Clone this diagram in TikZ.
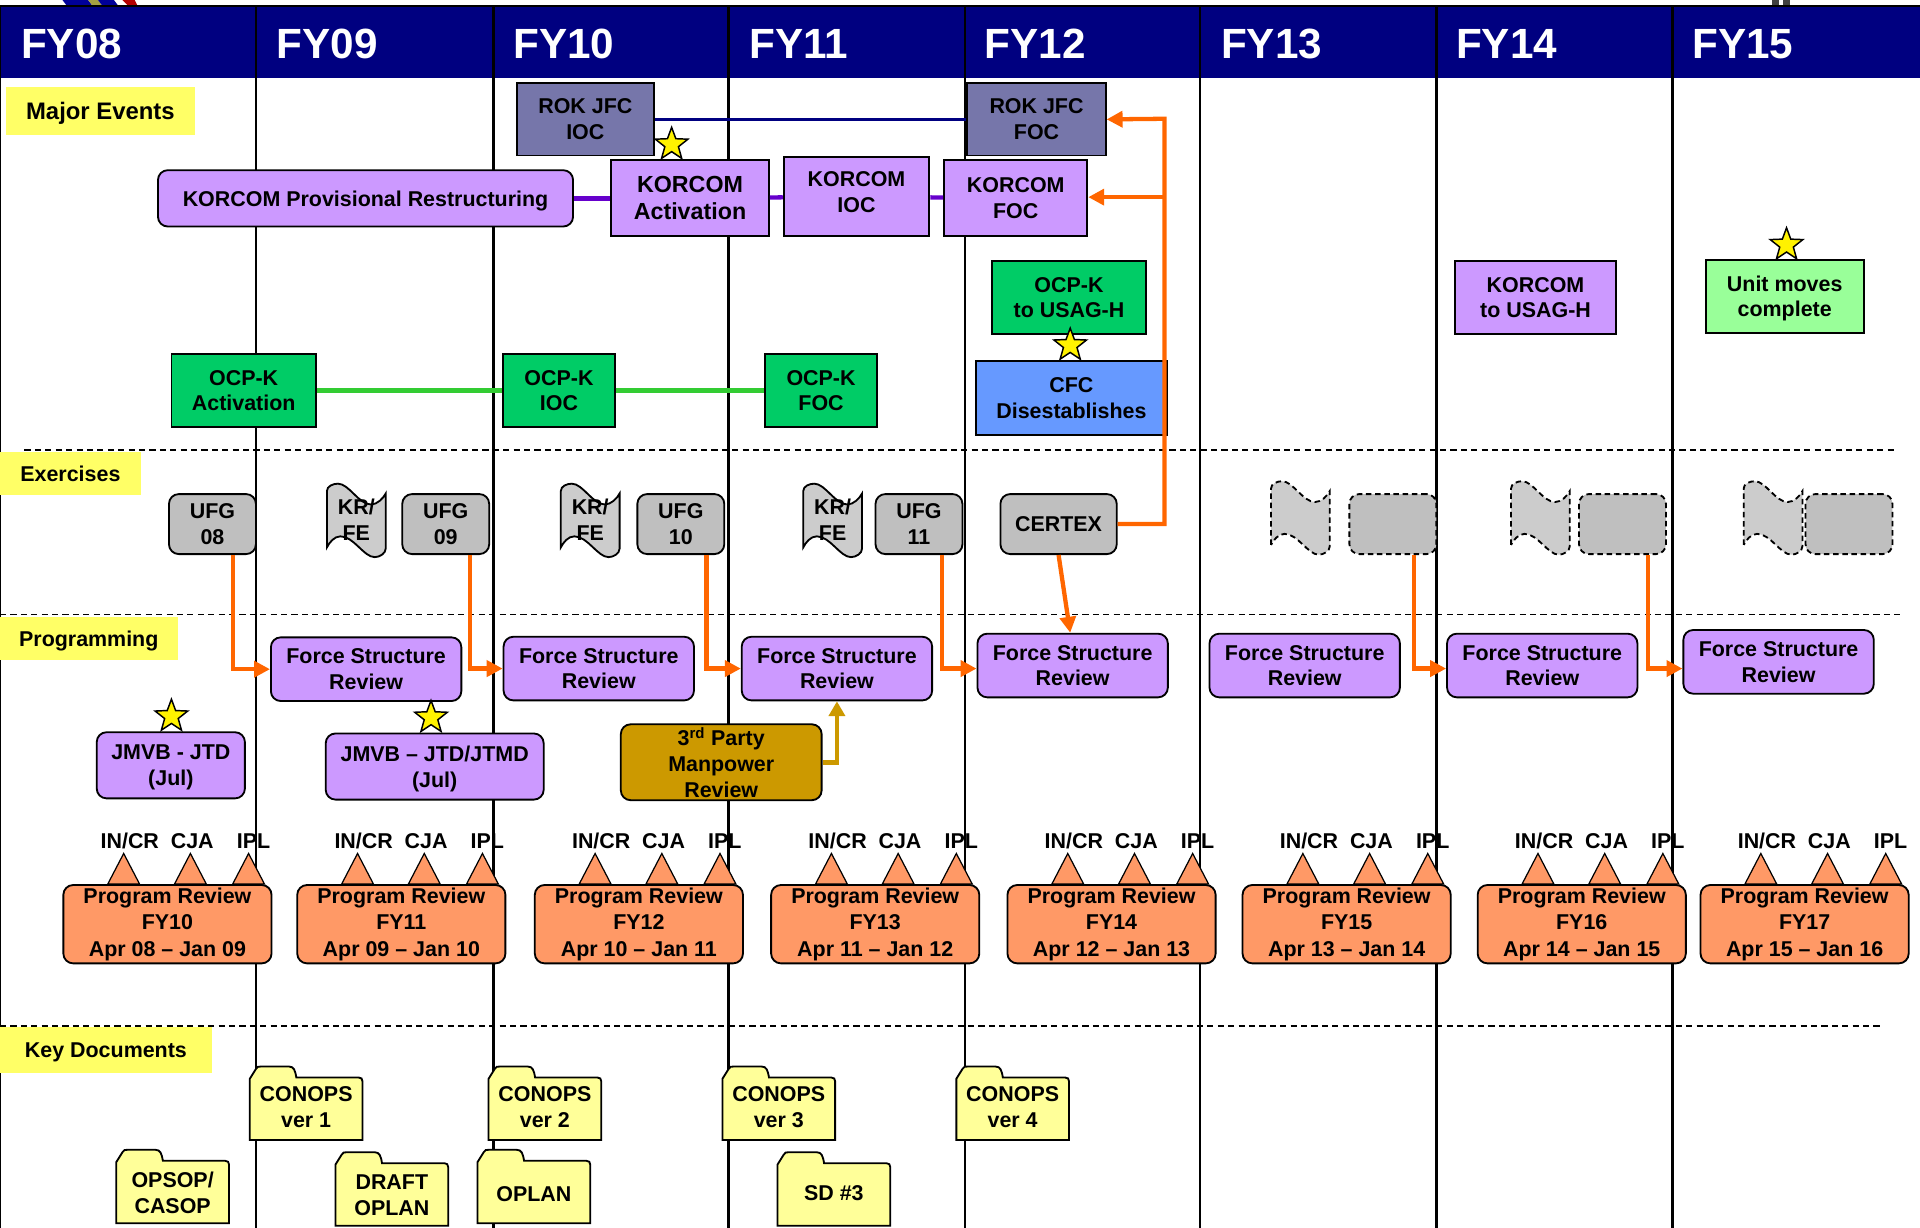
\documentclass[tikz,border=0pt]{standalone}
\usepackage{fontspec}
\setmainfont{Liberation Sans}
\usepackage{xcolor}
\usepackage{tikz}
\usetikzlibrary{arrows.meta,shapes.geometric}

\definecolor{headblue}{HTML}{000080}
\definecolor{rokblue}{HTML}{7676AA}
\definecolor{korpurple}{HTML}{CC99FF}
\definecolor{linepurple}{HTML}{6600CC}
\definecolor{ocpgreen}{HTML}{00CC66}
\definecolor{linegreen}{HTML}{33CC33}
\definecolor{cfcblue}{HTML}{6699FF}
\definecolor{unitgreen}{HTML}{99FF99}
\definecolor{tagyellow}{HTML}{FFFF66}
\definecolor{folderyellow}{HTML}{FFFF99}
\definecolor{arrowhead}{HTML}{FF6600}
\definecolor{mangold}{HTML}{CC9900}
\definecolor{progorange}{HTML}{FF9966}

\tikzset{
	txt/.style={font=\fontsize{17.5}{21}\selectfont\bfseries,align=center,inner sep=0},
	sqbox/.style={txt,draw=black,line width=1.5},
	rbox/.style={sqbox,rounded corners=8},
	tagbox/.style={txt,fill=tagyellow,text depth=0pt},
	ufgbox/.style={rbox,fill=black!25,minimum width=71,minimum height=49},
	ghostbox/.style={ufgbox,dash pattern=on 4.5pt off 3pt},
	fsrbox/.style={rbox,fill=korpurple,minimum width=155.5,minimum height=52},
	progbox/.style={rbox,fill=progorange,minimum width=170,minimum height=64},
	sstar/.style={star,star points=5,star point ratio=2.4,draw=black,line width=1.2,fill=yellow,minimum size=28,inner sep=0},
	orline/.style={draw=arrowhead,line width=3.5,-{Triangle[length=13,width=13]}},
	sepline/.style={dash pattern=on 5pt off 3.5pt,line width=1.3}
}

\begin{document}
\begin{tikzpicture}[x=1pt,y=-1pt]

\useasboundingbox (0,0) rectangle (1568,1002.8);
\clip (0,0) rectangle (1568,1002.8);

\fill[blue!60!black] (51,0)--(72,0)--(75,4)--(54,4)--cycle;
\fill[yellow!60!black] (72,0)--(80,0)--(83,4)--(75,4)--cycle;
\fill[blue!60!black] (80,0)--(93,0)--(96,4)--(83,4)--cycle;
\fill[red!70!black] (100,0)--(110,0)--(112,4)--(104,4)--cycle;
\fill[black!75] (1447,0) rectangle (1453,4);
\fill[black!75] (1456,0) rectangle (1462,4);

\fill[headblue] (0,6) rectangle (1568,64);
\draw[line width=1.5] (0,5)--(1568,5);

\foreach \a in {209,403,595,788,980,1173,1366}{
	\draw[line width=2] (\a,5)--(\a,1003);
}
\draw[line width=1.5] (0,5)--(0,1003);

\foreach \a/\t in {17/FY08,226/FY09,419/FY10,612/FY11,804/FY12,997/FY13,1189/FY14,1382/FY15}{
	\node[font=\fontsize{34.5}{36}\selectfont\bfseries,text=white,anchor=west,inner sep=0] (h\t) at (\a,36) {\t};
}

\draw[sepline] (20,367.5)--(1547,367.5);
\draw[sepline] (0,502)--(1552,502);
\draw[sepline] (0,838)--(1536,838);

\node[tagbox,minimum width=154,minimum height=39,font=\fontsize{19.5}{22}\selectfont\bfseries] (major) at (82,90.5) {Major Events};
\node[tagbox,minimum width=115,minimum height=35] (exer) at (57.5,386.5) {Exercises};
\node[tagbox,minimum width=145,minimum height=35] (prog) at (72.5,521.5) {Programming};
\node[tagbox,minimum width=173,minimum height=37] (keydoc) at (86.5,857.5) {Key Documents};

% major events
\node[sqbox,fill=rokblue,minimum width=112,minimum height=59] (rokioc) at (478,97.5) {ROK JFC\\IOC};
\node[sqbox,fill=rokblue,minimum width=113,minimum height=59] (rokfoc) at (846.5,97.5) {ROK JFC\\FOC};
\node[rbox,fill=korpurple,minimum width=339,minimum height=46,text depth=0pt] (korprov) at (298.5,162) {KORCOM Provisional Restructuring};
\node[sqbox,fill=korpurple,minimum width=129,minimum height=62,font=\fontsize{19}{22}\selectfont\bfseries] (koract) at (563.5,162) {KORCOM\\Activation};
\node[sqbox,fill=korpurple,minimum width=119,minimum height=65,label={[txt,yshift=3.5]center:KORCOM\\IOC}] (korioc) at (699.5,160.5) {};
\node[sqbox,fill=korpurple,minimum width=117,minimum height=62] (korfoc) at (829.5,162) {KORCOM\\FOC};
\node[sqbox,fill=ocpgreen,minimum width=126,minimum height=60] (ocpusag) at (873,243) {OCP-K\\to USAG-H};
\node[sqbox,fill=cfcblue,minimum width=156,minimum height=60] (cfc) at (875,325) {CFC\\Disestablishes};
\node[sqbox,fill=korpurple,minimum width=132,minimum height=60] (korusag) at (1254,243) {KORCOM\\to USAG-H};
\node[sqbox,fill=unitgreen,minimum width=129,minimum height=60,text depth=0pt] (unit) at (1457.5,242) {Unit moves\\complete};
\node[sqbox,fill=ocpgreen,minimum width=118,minimum height=60] (ocpact) at (199,319) {OCP-K\\Activation};
\node[sqbox,fill=ocpgreen,minimum width=91,minimum height=60] (ocpioc) at (456.5,319) {OCP-K\\IOC};
\node[sqbox,fill=ocpgreen,minimum width=91,minimum height=60] (ocpfoc) at (670.5,319) {OCP-K\\FOC};

\draw[headblue,line width=3] (rokioc)--(rokfoc);
\draw[linepurple,line width=3.5] (korprov)--(koract);
\draw[linepurple,line width=3.5] (koract)--(korioc);
\draw[linepurple,line width=3.5] (korioc)--(korfoc);
\draw[linegreen,line width=3.5] (ocpact)--(ocpioc);
\draw[linegreen,line width=3.5] (ocpioc)--(ocpfoc);

\node[sstar] (star1) at (548.5,118) {};
\node[sstar] (star2) at (874,282) {};
\node[sstar] (star3) at (1459,200) {};

% exercises
\foreach \a/\n in {267/a,458/b,656/c}{
	\draw[fill=black!20,line width=1.5,shift={(\a,395)}] (0,52)--(0,6) .. controls (0,2) and (5,0) .. (9,0) .. controls (18,0) and (26,17) .. (36,17) .. controls (41,17) and (46,12) .. (48,8)--(48,53) .. controls (48,57) and (43,60) .. (39,60) .. controls (30,60) and (22,43) .. (11,43) .. controls (6,43) and (2,48) .. (0,52)--cycle;
	\node[txt] (kr\n) at (\a+24,424.5) {KR/\\FE};
}
\foreach \a in {1038,1234,1424}{
	\draw[fill=black!20,line width=1.5,dash pattern=on 4.5pt off 3pt,shift={(\a,393)}] (0,52)--(0,6) .. controls (0,2) and (5,0) .. (9,0) .. controls (18,0) and (26,17) .. (36,17) .. controls (41,17) and (46,12) .. (48,8)--(48,53) .. controls (48,57) and (43,60) .. (39,60) .. controls (30,60) and (22,43) .. (11,43) .. controls (6,43) and (2,48) .. (0,52)--cycle;
}

\node[ufgbox] (ufga) at (173.5,428) {UFG\\08};
\node[ufgbox] (ufgb) at (364,428) {UFG\\09};
\node[ufgbox] (ufgc) at (556,428) {UFG\\10};
\node[ufgbox] (ufgd) at (750.5,428) {UFG\\11};
\node[ufgbox,minimum width=95] (certex) at (864.5,428) {CERTEX};
\node[ghostbox] (ufge) at (1137.5,428) {};
\node[ghostbox] (ufgf) at (1325,428) {};
\node[ghostbox] (ufgg) at (1510,428) {};

% programming
\node[fsrbox] (fsra) at (299,546.5) {Force Structure\\Review};
\node[fsrbox] (fsrb) at (489,546) {Force Structure\\Review};
\node[fsrbox] (fsrc) at (683.5,546) {Force Structure\\Review};
\node[fsrbox] (fsrd) at (876,543.5) {Force Structure\\Review};
\node[fsrbox] (fsre) at (1065.5,543.5) {Force Structure\\Review};
\node[fsrbox] (fsrf) at (1259.5,543.5) {Force Structure\\Review};
\node[fsrbox] (fsrg) at (1452.5,540.5) {Force Structure\\Review};

\node[rbox,fill=korpurple,minimum width=121,minimum height=54,text depth=0pt] (jmvba) at (139.5,625) {JMVB - JTD\\(Jul)};
\node[rbox,fill=korpurple,minimum width=178,minimum height=54,text depth=0pt] (jmvbb) at (355,626) {JMVB -- JTD/JTMD\\(Jul)};
\node[rbox,fill=mangold,minimum width=164,minimum height=62] (manp) at (589,622.5) {3\textsuperscript{rd} Party\\Manpower\\Review};

\node[sstar] (star4) at (140,585) {};
\node[sstar] (star5) at (352,586) {};

\coordinate (turn) at (951,97);
\coordinate (branch) at (951,161);

\draw[orline] ([xshift=16.5]ufga.south) |- (fsra.west);
\draw[orline] ([xshift=20]ufgb.south) |- (fsrb.west);
\draw[orline] ([xshift=21]ufgc.south) |- (fsrc.west);
\draw[orline] ([xshift=18.5]ufgd.south) |- ([yshift=-2.5]fsrd.west);
\draw[orline] ([xshift=17.5]ufge.south) |- ([yshift=-2.5]fsrf.west);
\draw[orline] ([xshift=21]ufgf.south) |- ([yshift=-5.5]fsrg.west);
\draw[orline] (certex.south) -- ([xshift=-2]fsrd.north);
\draw[orline] (certex.east) -| (turn) -- (rokfoc.east);
\draw[orline] (branch) -- (branch -| korfoc.east);
\draw[draw=mangold,line width=4,-{Triangle[length=12,width=13]}] (manp.east) -| (fsrc.south);

% program reviews
\foreach \a/\t/\s/\e in {51/10/08/09,242/11/09/10,436/12/10/11,629/13/11/12,822/14/12/13,1014/15/13/14,1206/16/14/15,1388/17/15/16}{
	\foreach \d in {50,104.5,152}{
		\draw[fill=progorange,line width=1] (\a+\d,697)--(\a+\d+13,722)--(\a+\d-13,722)--cycle;
	}
	\node[progbox,anchor=north west,font=\fontsize{17.5}{21.5}\selectfont\bfseries] (pr\t) at (\a,722) {Program Review\\FY\t\\Apr \s{} -- Jan \e};
	\node[txt] (incr\t) at (\a+55,687) {IN/CR};
	\node[txt] (cja\t) at (\a+106,687) {CJA};
	\node[txt] (ipl\t) at (\a+156,687) {IPL};
}

% key documents
\foreach \a/\b/\c/\n/\t in {204/871/33/a/{CONOPS\\ver 1},399/871/33/b/{CONOPS\\ver 2},590/871/33/c/{CONOPS\\ver 3},781/871/33/d/{CONOPS\\ver 4},95/939/35/e/{OPSOP/\\CASOP},274/941/35/f/{DRAFT\\OPLAN},390/939/36/g/{OPLAN},635/941/33/h/{SD \#3}}{
	\draw[fill=folderyellow,line width=1.5,shift={(\a,\b)}] (0,60)--(0,10)--(5,2) .. controls (6,0) and (7,0) .. (9,0)--(32,0) .. controls (36,0) and (37,3) .. (38,9)--(89,9) .. controls (91,9) and (92,10) .. (92,12)--(92,60)--cycle;
	\node[txt] (doc\n) at (\a+46,\b+\c) {\t};
}

\end{tikzpicture}
\end{document}
